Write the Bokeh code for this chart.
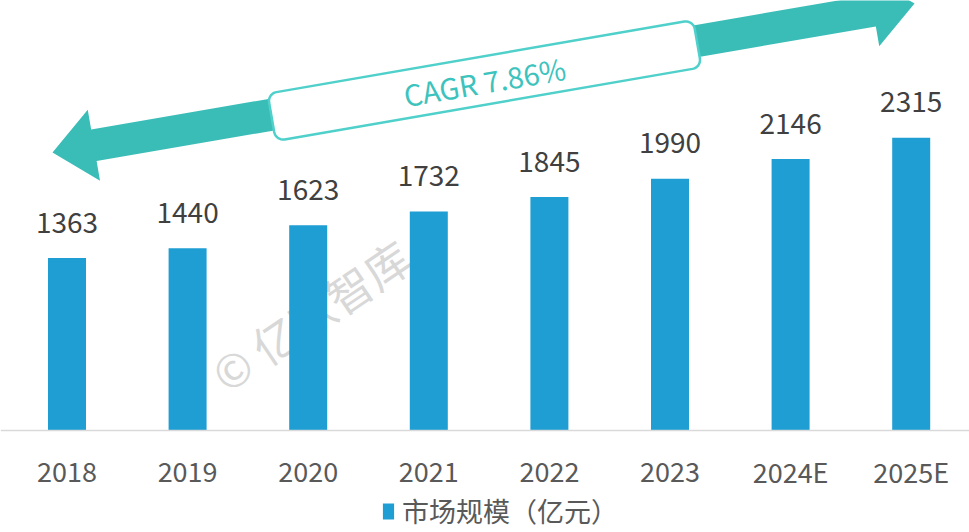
import numpy as np
from bokeh.plotting import figure
from bokeh.models import Range1d, Span, Legend, LegendItem, ColumnDataSource
from bokeh.core.properties import value
from bokeh.embed import file_html
from bokeh.resources import INLINE

# ---- data ----
categories = ["2018", "2019", "2020", "2021", "2022", "2023", "2024E", "2025E"]
market_size = [1363, 1440, 1623, 1732, 1845, 1990, 2146, 2315]
series_name = "市场规模（亿元）"
cagr_label = "CAGR 7.86%"
watermark = "© 亿欧智库"

# ---- layout constants (pixels) ----
W, H = 969, 532
X0_PX, STEP_PX = 66.5, 120.6      # centre of first category, category pitch
BASE_PX, PX_PER_UNIT = 430.0, 0.1265

FONT = "Noto Sans CJK SC"
BAR_COLOR = "#1E9ED3"
TEAL = "#3BBDB7"


def px_to_x(px):
    return (np.asarray(px, dtype=float) - X0_PX) / STEP_PX


def px_to_y(py):
    return (BASE_PX - np.asarray(py, dtype=float)) / PX_PER_UNIT


p = figure(width=W, height=H, output_backend="svg", toolbar_location=None,
           x_range=Range1d(float(px_to_x(0)), float(px_to_x(W))),
           y_range=Range1d(float(px_to_y(H)), float(px_to_y(0))),
           min_border=0, outline_line_color=None,
           x_axis_location=None, y_axis_location=None)
p.grid.visible = False
p.background_fill_color = "white"
p.border_fill_color = "white"

xs = np.arange(len(categories))
src = ColumnDataSource(dict(x=xs, top=market_size, cat=categories,
                            lbl=[str(v) for v in market_size]))

# watermark (beneath bars)
p.text(x=[float(px_to_x(310))], y=[float(px_to_y(314))], text=[watermark],
       angle=34, angle_units="deg", text_font=value(FONT), text_font_size="45px",
       text_color="#D8D8D8", text_align="center", text_baseline="middle")

# bars
bars = p.vbar(x="x", top="top", bottom=0, width=38 / STEP_PX, source=src,
              color=BAR_COLOR, line_color=None)

# baseline axis line
p.add_layout(Span(location=0, dimension="width", line_color="#D9D9D9", line_width=1.5))

# value labels
p.text(x="x", y="top", text="lbl", source=src, text_font=value(FONT),
       text_font_size="28px", text_color="#404040", text_align="center",
       text_baseline="middle", y_offset=-36)

# category labels
p.text(x="x", y=float(px_to_y(471)), text="cat", source=src, text_font=value(FONT),
       text_font_size="27px", text_color="#595959", text_align="center",
       text_baseline="middle")

# ---- double-headed arrow (decoration, built in pixel space) ----
t0 = np.array([52.0, 152.0])
t1 = np.array([914.0, 3.0])
u = (t1 - t0) / np.linalg.norm(t1 - t0)
n = np.array([u[1], -u[0]])  # perpendicular
hl, hw, sw = 42.0, 36.0, 16.0
pts = [t0,
       t0 + u * hl + n * hw, t0 + u * hl + n * sw,
       t1 - u * hl + n * sw, t1 - u * hl + n * hw,
       t1,
       t1 - u * hl - n * hw, t1 - u * hl - n * sw,
       t0 + u * hl - n * sw, t0 + u * hl - n * hw]
pts = np.array(pts)
p.patch(x=px_to_x(pts[:, 0]), y=px_to_y(pts[:, 1]), color=TEAL, line_color=None)

# rounded label box
c = np.array([484.0, 80.0])
L, T, r = 432.0, 48.0, 9.0
box = []
for cx, cy, a0 in [(L / 2 - r, T / 2 - r, 0), (-L / 2 + r, T / 2 - r, 90),
                   (-L / 2 + r, -T / 2 + r, 180), (L / 2 - r, -T / 2 + r, 270)]:
    for a in np.radians(np.linspace(a0, a0 + 90, 8)):
        lx, ly = cx + r * np.cos(a), cy + r * np.sin(a)
        box.append(c + u * lx - n * ly)
box = np.array(box)
p.patch(x=px_to_x(box[:, 0]), y=px_to_y(box[:, 1]), fill_color="white",
        line_color="#4FD0CA", line_width=2.5)

ang = float(np.degrees(np.arctan2(-u[1], u[0])))
p.text(x=[float(px_to_x(c[0]))], y=[float(px_to_y(c[1]))], text=[cagr_label],
       angle=ang, angle_units="deg", text_font=value(FONT), text_font_size="29px",
       text_color="#3CC3BD", text_align="center", text_baseline="middle")

# legend
legend = Legend(items=[LegendItem(label=series_name, renderers=[bars])],
                location=(381, 2), orientation="horizontal",
                label_text_font=FONT, label_text_font_size="27px",
                label_text_color="#595959", glyph_width=14, glyph_height=20,
                background_fill_alpha=0, border_line_alpha=0,
                padding=0, margin=0, label_standoff=7)
p.add_layout(legend)

open("out.html", "w").write(file_html(p, INLINE))
